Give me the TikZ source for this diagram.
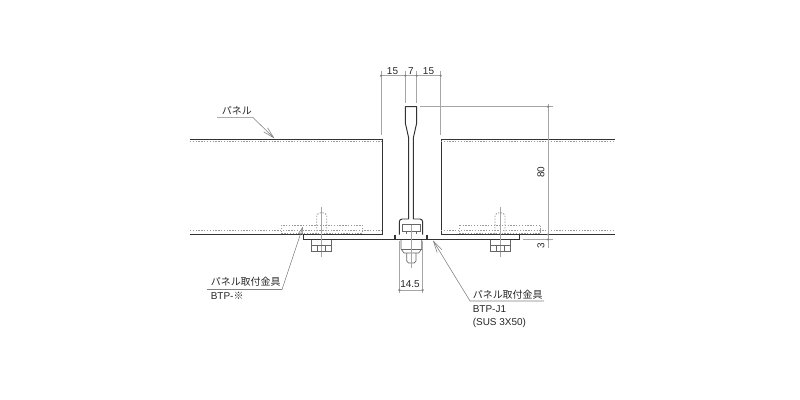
\documentclass[tikz,border=0pt]{standalone}
\usepackage{fontspec}
\setmainfont{Liberation Sans}
\newfontfamily\jpfont{Noto Sans CJK JP}
\usetikzlibrary{arrows.meta}
\tikzset{
    outline/.style={draw=black!80,line width=0.7pt},
    hidden/.style={draw=black!40,line width=0.6pt,dash pattern=on 1pt off 1pt},
    thin part/.style={draw=black!60,line width=0.45pt},
    dimline/.style={draw=black!35,line width=0.45pt},
    leaderline/.style={draw=black!50,line width=0.4pt},
    dimtext/.style={inner sep=0pt,font=\fontsize{7.1pt}{8pt}\selectfont,text=black!85},
    notetext/.style={dimtext,anchor=west},
}
\begin{document}
\begin{tikzpicture}[x=0.025cm,y=-0.025cm]
        \useasboundingbox (0,0) rectangle (800,400);
        % Draw panels
        \draw [outline] (190,139) -- (382,139) -- (382,234.5) -- (190,234.5);
        \draw [outline] (615,139) -- (441,139) -- (441,234.5) -- (615,234.5);
        \foreach \xa/\xb in {190/382, 441/615} {
            \draw [hidden] (\xa,141.5) -- (\xb,141.5);
            \draw [hidden] (\xa,230) -- (\xb,230);
        }
        % Draw plate
        \draw [outline] (303,234.5) -- (303,239.5) -- (519,239.5) -- (519,234.5);
        \foreach \x in {395, 427} {
            \draw [outline,line width=1pt] (\x,234.5) -- (\x,239.5);
        }
        % Draw T bar
        \draw [outline,line join=round] (408.7,219) -- (408.7,138) -- (405.3,123) -- (405.3,106.7) -- (416.7,106.7)
            -- (416.7,123) -- (413.3,138) -- (413.3,219);
        \draw [outline,rounded corners=2pt] (399.3,234.5) -- (399.3,219) -- (408.7,219);
        \draw [outline,rounded corners=2pt] (422.7,234.5) -- (422.7,219) -- (413.3,219);
        % Draw center bolt
        \draw [thin part] (402.3,224) rectangle (420,231.5);
        \draw [thin part] (406.7,231.5) -- (406.7,234);
        \draw [thin part] (416,231.5) -- (416,234);
        \draw [thin part] (401,240) -- (401,249) -- (404,253) -- (418.7,253) -- (421.7,249) -- (421.7,240);
        \draw [thin part] (401,249) -- (421.7,249);
        \draw [thin part] (406.7,253) -- (406.7,261) -- (408.5,263) -- (414.2,263) -- (416,261) -- (416,253);
        \draw [dimline] (411.3,225) -- (411.3,268);
        % Draw side bolts
        \foreach \x/\xa/\xb in {321.7/281/362, 500/459/540.7} {
            \draw [hidden] (\xa,225) rectangle (\xb,233);
            \draw [hidden] (\x-5,234) -- (\x-5,216) arc (180:360:5 and 3.5) -- (\x+5,234);
            \draw [dimline] (\x,207) -- (\x,256.5);
            \draw [thin part] (\x-10,240) -- (\x-10,251) -- (\x+10,251) -- (\x+10,240);
            \draw [thin part] (\x-10,245) -- (\x+10,245);
            \draw [thin part] (\x-4,245) -- (\x-4,251);
            \draw [thin part] (\x+4,245) -- (\x+4,251);
        }
        % Draw scale
        \draw [dimline] (381,75.7) -- (440.7,75.7);
        \foreach \x/\yb in {381/135, 405.3/103, 416.7/103, 440.7/135} {
            \draw [dimline] (\x,71) -- (\x,\yb);
            \fill [black!50] (\x,75.7) circle (1.2);
        }
        \draw [dimline] (420,106.7) -- (553,106.7);
        \draw [dimline] (522.7,239.5) -- (553,239.5);
        \draw [dimline] (548,104) -- (548,248);
        \foreach \y in {106.7, 234.5, 239.5} {
            \fill [black!50] (548,\y) circle (1.2);
        }
        \draw [dimline] (399.3,241) -- (399.3,293);
        \draw [dimline] (422.7,241) -- (422.7,293);
        \draw [dimline] (399.3,290) -- (422.7,290);
        \foreach \x in {399.3, 422.7} {
            \fill [black!50] (\x,290) circle (1.2);
        }
        \node [dimtext] (dimpanela) at (392.5,71.5) {15};
        \node [dimtext] (dimbar) at (411,71.5) {7};
        \node [dimtext] (dimpanelb) at (428.5,71.5) {15};
        \node [dimtext,rotate=90] (dimheight) at (541,172) {80};
        \node [dimtext,rotate=90] (dimplate) at (541,245.5) {3};
        \node [dimtext] (dimbolt) at (410,284.5) {14.5};
        % Draw notes
        \node [notetext] (panelnote) at (221.5,110.5) {\jpfont パネル};
        \coordinate (paneltip) at (274.5,138.5);
        \draw [leaderline,-{Straight Barb[length=8pt,width=4pt]}] (217,117.3) -- (252.7,117.3) -- (paneltip);
        \node [notetext] (leftnote) at (210.5,282) {\jpfont パネル取付金具};
        \node [notetext] (leftcode) at (210.5,296) {BTP-{\jpfont ※}};
        \coordinate (lefttip) at (303,226.5);
        \draw [leaderline,-{Straight Barb[length=5pt,width=3pt]}] (207,289.5) -- (282,289.5) -- (lefttip);
        \node [notetext] (rightnote) at (472.5,295) {\jpfont パネル取付金具};
        \node [notetext] (rightcode) at (472.5,309) {BTP-J1};
        \node [notetext] (rightmat) at (472.5,322.5) {(SUS 3X50)};
        \coordinate (righttip) at (433,240.5);
        \draw [leaderline,-{Straight Barb[length=8pt,width=4pt]}] (544,301) -- (470,301) -- (righttip);
    \end{tikzpicture}
\end{document}
